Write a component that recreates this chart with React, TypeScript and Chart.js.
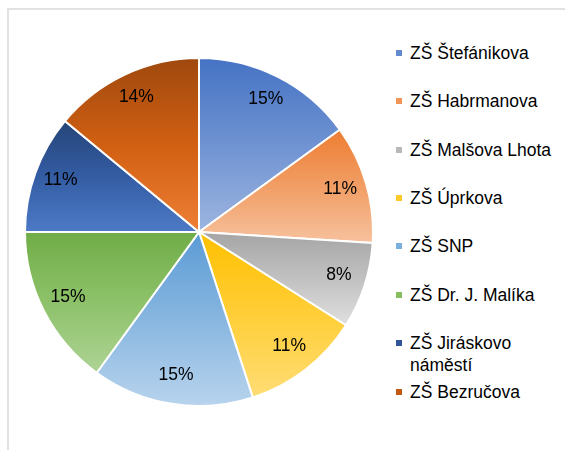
import React, { useEffect, useRef } from "react";
import { Chart, registerables } from "chart.js";

Chart.register(...registerables);

const schools = [
  "ZŠ Štefánikova",
  "ZŠ Habrmanova",
  "ZŠ Malšova Lhota",
  "ZŠ Úprkova",
  "ZŠ SNP",
  "ZŠ Dr. J. Malíka",
  "ZŠ Jiráskovo\nnáměstí",
  "ZŠ Bezručova",
];
const shares = [15, 11, 8, 11, 15, 15, 11, 14];
const baseColors = [
  "#4472C4",
  "#ED7D31",
  "#A5A5A5",
  "#FFC000",
  "#5B9BD5",
  "#70AD47",
  "#264478",
  "#9E480E",
];

const FONT = '"Liberation Sans", Arial, Helvetica, sans-serif';

function hexToHsl(hex: string): [number, number, number] {
  const n = parseInt(hex.slice(1), 16);
  const r = ((n >> 16) & 255) / 255;
  const g = ((n >> 8) & 255) / 255;
  const b = (n & 255) / 255;
  const max = Math.max(r, g, b);
  const min = Math.min(r, g, b);
  const l = (max + min) / 2;
  let h = 0;
  let s = 0;
  if (max !== min) {
    const d = max - min;
    s = l > 0.5 ? d / (2 - max - min) : d / (max + min);
    if (max === r) h = (g - b) / d + (g < b ? 6 : 0);
    else if (max === g) h = (b - r) / d + 2;
    else h = (r - g) / d + 4;
    h *= 60;
  }
  return [h, s * 100, l * 100];
}

function hsl(hex: string, dl: number): string {
  const [h, s, l] = hexToHsl(hex);
  const nl = Math.max(0, Math.min(94, l + dl));
  return `hsl(${h.toFixed(1)}, ${s.toFixed(1)}%, ${nl.toFixed(1)}%)`;
}

function sliceGradient(c: any) {
  const chart = c.chart;
  const area = chart.chartArea;
  const i = c.dataIndex;
  const base = baseColors[i];
  if (!area || i === undefined) return base;
  const cx = (area.left + area.right) / 2;
  const cy = (area.top + area.bottom) / 2;
  const r = Math.min(area.right - area.left, area.bottom - area.top) / 2;
  const data = c.dataset.data as number[];
  const total = data.reduce((a, b) => a + b, 0);
  let before = 0;
  for (let k = 0; k < i; k++) before += data[k];
  const a0 = -Math.PI / 2 + (2 * Math.PI * before) / total;
  const a1 = a0 + (2 * Math.PI * data[i]) / total;
  const ys = [cy, cy + r * Math.sin(a0), cy + r * Math.sin(a1)];
  for (let k = -4; k <= 8; k++) {
    const a = (k * Math.PI) / 2;
    if (a > a0 && a < a1) ys.push(cy + r * Math.sin(a));
  }
  const top = Math.min(...ys);
  const bottom = Math.max(...ys);
  const g = chart.ctx.createLinearGradient(0, top, 0, bottom);
  g.addColorStop(0, hsl(base, 0));
  g.addColorStop(0.5, hsl(base, 11));
  g.addColorStop(1, hsl(base, 23));
  return g;
}

const percentLabels = {
  id: "percentLabels",
  afterDatasetsDraw(chart: any) {
    const ctx = chart.ctx;
    const meta = chart.getDatasetMeta(0);
    const data = chart.data.datasets[0].data as number[];
    const total = data.reduce((a, b) => a + b, 0);
    ctx.save();
    ctx.font = `17.5px ${FONT}`;
    ctx.fillStyle = "#000";
    ctx.textAlign = "center";
    ctx.textBaseline = "middle";
    meta.data.forEach((arc: any, i: number) => {
      const p = arc.getProps(["x", "y", "startAngle", "endAngle", "outerRadius"], true);
      const mid = (p.startAngle + p.endAngle) / 2;
      const rr = p.outerRadius * 0.845;
      const x = p.x + rr * Math.cos(mid);
      const y = p.y + rr * Math.sin(mid) - 2;
      ctx.fillText(`${Math.round((data[i] / total) * 100)}%`, x, y);
    });
    ctx.restore();
  },
};

export default function App() {
  const ref = useRef<HTMLCanvasElement>(null);

  useEffect(() => {
    if (!ref.current) return;
    const chart = new Chart(ref.current, {
      type: "pie",
      data: {
        labels: schools,
        datasets: [
          {
            data: shares,
            backgroundColor: sliceGradient as any,
            borderColor: "#ffffff",
            borderWidth: 2,
          },
        ],
      },
      options: {
        responsive: false,
        animation: false,
        layout: { padding: 0 },
        plugins: {
          legend: { display: false },
          tooltip: { enabled: false },
        },
      },
      plugins: [percentLabels],
    });
    return () => chart.destroy();
  }, []);

  return (
    <div
      style={{
        position: "fixed",
        left: 0,
        top: 0,
        width: 565,
        height: 450,
        overflow: "hidden",
        background: "#fff",
      }}
    >
      <div
        style={{
          position: "absolute",
          left: 7,
          top: 8,
          width: 700,
          height: 600,
          borderLeft: "2px solid #e2e2e2",
          borderTop: "2px solid #e2e2e2",
        }}
      />
      <canvas
        ref={ref}
        width={350}
        height={350}
        style={{ position: "absolute", left: 24, top: 57, width: 350, height: 350 }}
      />
      {schools.map((name, i) => (
        <div
          key={name}
          style={{
            position: "absolute",
            left: 396,
            top: 52.7 + i * 48.4 - 11,
            display: "flex",
            alignItems: "flex-start",
            fontFamily: FONT,
            fontSize: 17.5,
            lineHeight: "22px",
            color: "#000",
            whiteSpace: "pre-line",
          }}
        >
          <span
            style={{
              display: "inline-block",
              width: 6,
              height: 6,
              marginTop: 8,
              marginRight: 8,
              background: hsl(baseColors[i], 8),
            }}
          />
          <span>{name}</span>
        </div>
      ))}
    </div>
  );
}
